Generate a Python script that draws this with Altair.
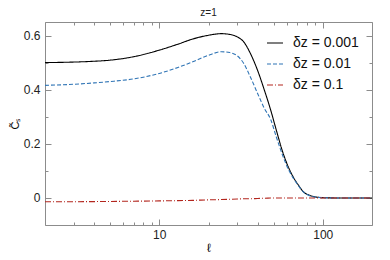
import altair as alt
import pandas as pd

ell = [2, 3, 4, 5, 7, 10, 13, 16, 20, 24, 27, 30, 33, 36, 40, 44, 48, 52, 57, 62, 66, 71, 76, 82, 88,
       100, 120, 150, 200]
black = [0.500, 0.502, 0.505, 0.509, 0.522, 0.546, 0.568, 0.587, 0.601, 0.607, 0.604, 0.595, 0.575, 0.535,
         0.470, 0.397, 0.325, 0.250, 0.168, 0.110, 0.077, 0.047, 0.023, 0.011, 0.005, 0.001, 0.0, 0.0, 0.0]
blue = [0.416, 0.420, 0.425, 0.430, 0.440, 0.460, 0.482, 0.503, 0.527, 0.540, 0.537, 0.525, 0.495, 0.448,
        0.385, 0.330, 0.290, 0.225, 0.155, 0.102, 0.073, 0.045, 0.022, 0.010, 0.004, 0.001, 0.0, 0.0, 0.0]
red = [-0.014, -0.014, -0.0135, -0.013, -0.012, -0.011, -0.010, -0.009, -0.007, -0.006, -0.005, -0.004,
       -0.003, -0.003, -0.002, -0.001, -0.0005, 0.0, 0.0, 0.0, 0.0, 0.0, 0.0, 0.0, 0.0, 0.0, 0.0, 0.0, 0.0]
series = ["δz = 0.001", "δz = 0.01", "δz = 0.1"]
colors = ["#000000", "#2f74b5", "#b3261e"]
dashes = [[1, 0], [4, 2], [6, 2, 1, 2]]

x_major = [10, 100]
x_minor = [2, 3, 4, 5, 6, 7, 8, 9, 20, 30, 40, 50, 60, 70, 80, 90, 200]
y_major = [0, 0.2, 0.4, 0.6]
y_minor = [0.1, 0.3, 0.5]

rows = []
for name, vals in zip(series, [black, blue, red]):
    for l, v in zip(ell, vals):
        rows.append({"ell": l, "value": v, "series": name})
df = pd.DataFrame(rows)

xscale = alt.Scale(type="log", domain=[2, 200], nice=False)
yscale = alt.Scale(domain=[-0.1, 0.65], nice=False, zero=False)
GRAY = "#8c8c8c"


def xaxis(orient, values, size, labels, title=None):
    kw = dict(orient=orient, values=values, offset=-size, tickSize=size, domain=False, grid=False,
              labels=labels, tickColor=GRAY, tickWidth=1, title=title)
    if labels:
        kw.update(labelPadding=4, labelFontSize=12, labelColor="#222", format="d",
                  titleFontSize=12, titlePadding=2, titleFontWeight="normal")
    return alt.Axis(**kw)


def yaxis(orient, values, size, labels, title=None):
    kw = dict(orient=orient, values=values, offset=-size, tickSize=size, domain=False, grid=False,
              labels=labels, tickColor=GRAY, tickWidth=1, title=title)
    if labels:
        kw.update(labelPadding=5, labelFontSize=12, labelColor="#222",
                  labelExpr="datum.value == 0 ? '0' : format(datum.value, '.1f')",
                  titleFontSize=11, titlePadding=3, titleFontWeight="normal")
    return alt.Axis(**kw)


main = alt.Chart(df).mark_line(strokeWidth=1.1, clip=True, interpolate="monotone").encode(
    x=alt.X("ell:Q", scale=xscale, axis=xaxis("bottom", x_major, 6, True, "ℓ")),
    y=alt.Y("value:Q", scale=yscale, axis=yaxis("left", y_major, 6, True, "C̃ₛ")),
    color=alt.Color("series:N", scale=alt.Scale(domain=series, range=colors),
                    legend=alt.Legend(title=None)),
    strokeDash=alt.StrokeDash("series:N", scale=alt.Scale(domain=series, range=dashes),
                              legend=alt.Legend(title=None)),
)


def ghost(xo, xv, xs, yo, yv, ys):
    return alt.Chart(df).mark_line(opacity=0).encode(
        x=alt.X("ell:Q", scale=xscale, axis=xaxis(xo, xv, xs, False)),
        y=alt.Y("value:Q", scale=yscale, axis=yaxis(yo, yv, ys, False)),
        detail="series:N",
    )


chart = alt.layer(
    main,
    ghost("bottom", x_minor, 3, "left", y_minor, 3),
    ghost("top", x_major, 6, "right", y_major, 6),
    ghost("top", x_minor, 3, "right", y_minor, 3),
).resolve_axis(x="independent", y="independent").properties(
    width=327, height=203,
    title=alt.TitleParams("z=1", fontSize=10, fontWeight="normal", offset=4, color="#222"),
    autosize=alt.AutoSizeParams(type="none"),
    padding={"left": 37, "top": 14, "right": 10, "bottom": 30},
).configure(font="Liberation Sans").configure_view(
    stroke=GRAY, strokeWidth=1
).configure_legend(
    orient="none", legendX=221, legendY=12, labelFontSize=14, labelColor="#111", symbolType="stroke",
    symbolSize=256, symbolStrokeWidth=1.2, rowPadding=5, labelOffset=9, padding=0,
)

chart.save("out.html", embed_options={"renderer": "svg", "actions": False})
